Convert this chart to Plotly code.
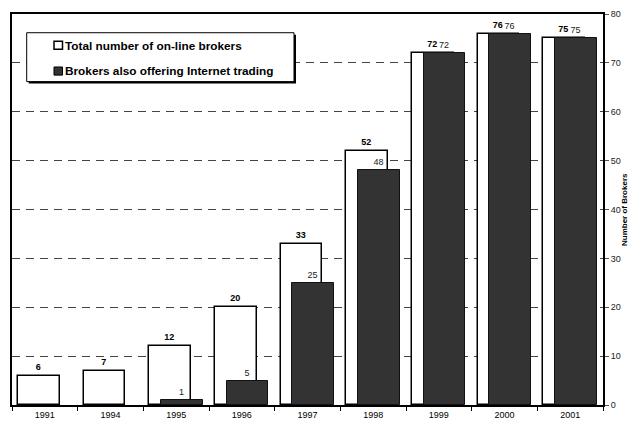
import plotly.graph_objects as go

# ---- data ----
years = ["1991", "1994", "1995", "1996", "1997", "1998", "1999", "2000", "2001"]
total_brokers = [6, 7, 12, 20, 33, 52, 72, 76, 75]
internet_brokers = [None, None, 1, 5, 25, 48, 72, 76, 75]
y_ticks = [0, 10, 20, 30, 40, 50, 60, 70, 80]
name_total = "Total number of on-line brokers"
name_internet = "Brokers also offering Internet trading"
axis_title = "Number of Brokers"

W, H = 629, 432
ML, MR, MT, MB = 12, 26, 13, 16
PW, PH = W - ML - MR, H - MT - MB

def px(x):
    return (x - ML) / PW

def py(y):
    return (H - MB - y) / PH

FONT = "Liberation Sans, Arial, sans-serif"

fig = go.Figure()
fig.add_trace(go.Bar(
    x=years, y=total_brokers, name=name_total,
    offset=-0.41, width=0.635,
    marker=dict(color="white", line=dict(color="black", width=1.5)),
    texttemplate="<b>%{y}</b>", textposition="outside", constraintext="none",
    textfont=dict(family=FONT, size=9, color="black"), cliponaxis=False,
    showlegend=False,
))
fig.add_trace(go.Bar(
    x=years, y=internet_brokers, name=name_internet,
    offset=-0.23, width=0.635,
    marker=dict(color="#333333", line=dict(color="#111111", width=1)),
    texttemplate="%{y}", textposition="outside", constraintext="none",
    textfont=dict(family=FONT, size=9, color="#222222"), cliponaxis=False,
    showlegend=False,
))

shapes = []
annotations = []
# legend box with shadow
bx0, by0, bx1, by1 = 26.7, 32.3, 294, 82.7
shapes.append(dict(type="rect", xref="paper", yref="paper",
                   x0=px(bx0 + 2), x1=px(bx1 + 2), y0=py(by1 + 2), y1=py(by0 + 2),
                   fillcolor="black", line=dict(width=0), layer="above"))
shapes.append(dict(type="rect", xref="paper", yref="paper",
                   x0=px(bx0), x1=px(bx1), y0=py(by1), y1=py(by0),
                   fillcolor="white", line=dict(color="black", width=1), layer="above"))
# swatches
for (cy, fill, lw) in [(45.2, "white", 1.5), (71.8, "#333333", 1)]:
    shapes.append(dict(type="rect", xref="paper", yref="paper",
                       x0=px(54), x1=px(62.5), y0=py(cy + 4.2), y1=py(cy - 4.2),
                       fillcolor=fill, line=dict(color="black", width=lw), layer="above"))
for cy, txt in [(45.5, name_total), (71.8, name_internet)]:
    annotations.append(dict(xref="paper", yref="paper", x=px(63), y=py(cy),
                            xanchor="left", yanchor="middle", showarrow=False,
                            text="<b>" + txt + "</b>",
                            font=dict(family=FONT, size=11.8, color="black")))
# right axis title (rotated, at the right edge of the window)
annotations.append(dict(xref="paper", yref="paper", x=px(630), y=py(214.5),
                        xanchor="right", yanchor="middle", showarrow=False, textangle=-90,
                        text="<b>" + axis_title + "</b>", borderpad=0,
                        font=dict(family=FONT, size=8, color="black")))

fig.update_layout(
    width=W, height=H,
    margin=dict(l=ML, r=MR, t=MT, b=MB, pad=0),
    paper_bgcolor="white", plot_bgcolor="white",
    barmode="overlay", bargap=0,
    showlegend=False,
    font=dict(family=FONT, size=9, color="black"),
    shapes=shapes, annotations=annotations,
    xaxis=dict(
        type="category", showline=True, linecolor="black", linewidth=2, mirror=True,
        ticks="outside", tickson="boundaries", ticklen=4, tickcolor="black", tickwidth=1,
        showgrid=False, tickfont=dict(family=FONT, size=9, color="black"),
        range=[-0.5, len(years) - 0.5],
    ),
    yaxis=dict(
        side="right", range=[0, 80], tickvals=y_ticks,
        showline=True, linecolor="black", linewidth=2, mirror=True,
        ticks="outside", ticklen=4, tickcolor="#555555", tickwidth=1,
        showgrid=True, gridcolor="#444444", gridwidth=1, griddash="8px,6px",
        zeroline=False,
        tickfont=dict(family=FONT, size=9, color="#222222"),
        automargin=False,
    ),
)

fig.write_html("out.html")
